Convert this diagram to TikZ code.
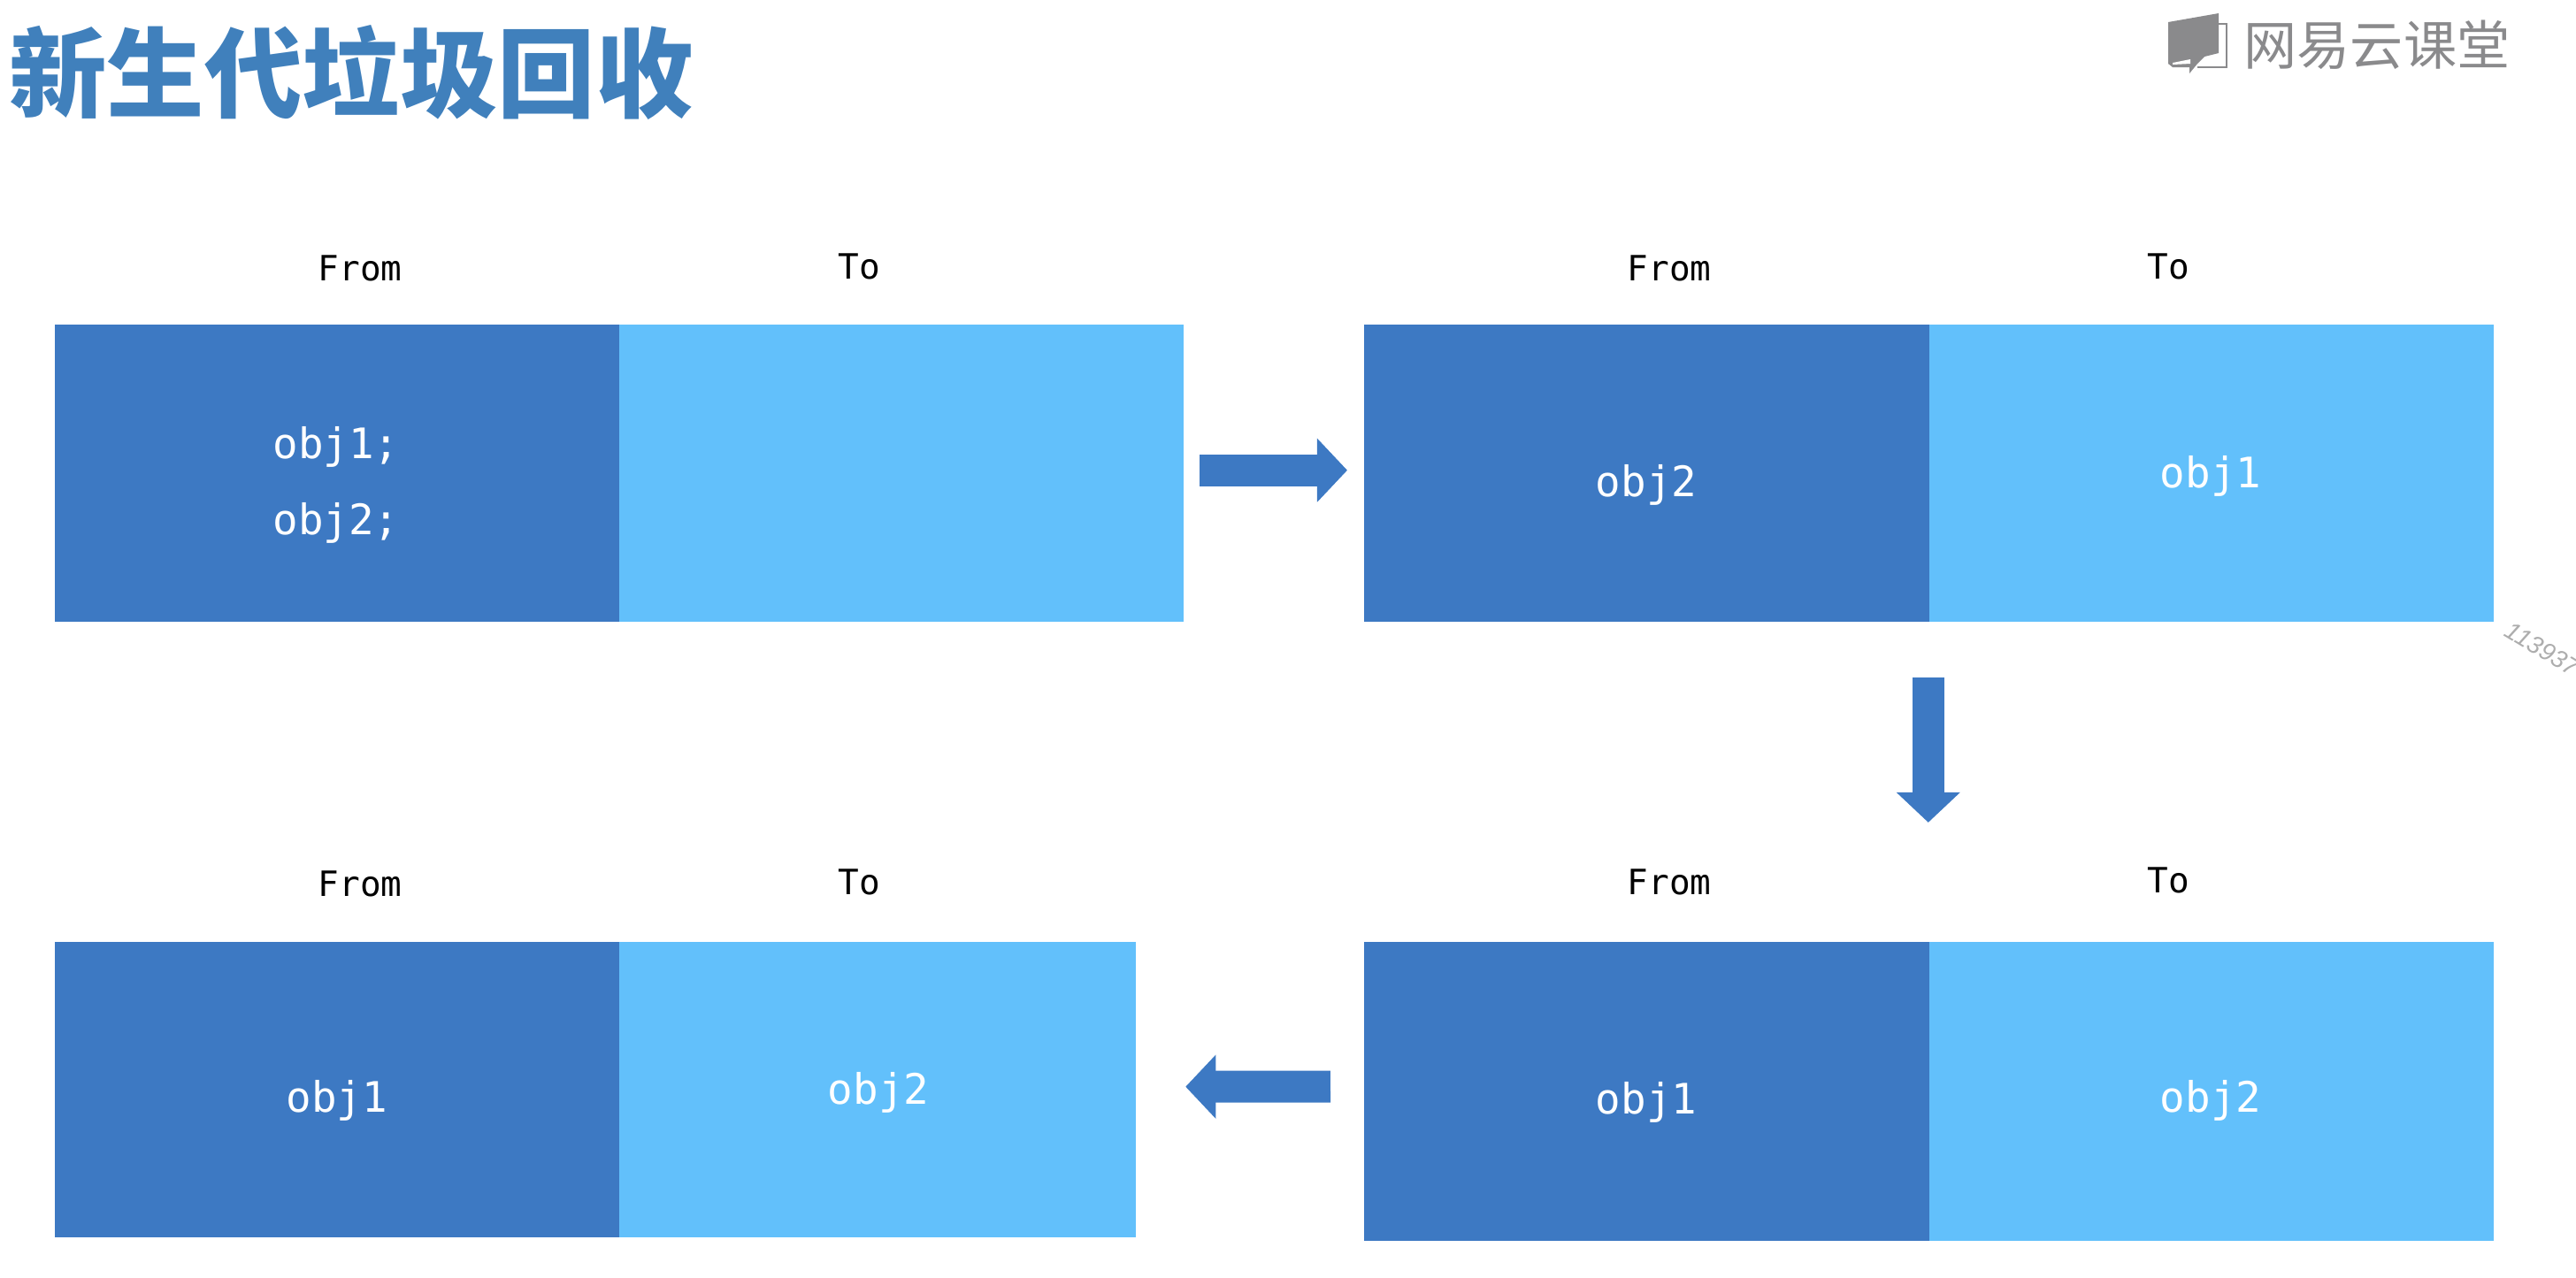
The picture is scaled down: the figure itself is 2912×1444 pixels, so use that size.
\documentclass[tikz,border=0pt]{standalone}
\usepackage{fontspec}
\setmonofont{DejaVu Sans Mono}
\setsansfont{Liberation Sans}
\newfontfamily\cjk{Noto Sans CJK SC}
\usetikzlibrary{arrows.meta, positioning}

\definecolor{fromblue}{HTML}{3D79C3}
\definecolor{toblue}{HTML}{62C0FB}
\definecolor{titleblue}{HTML}{4080BC}
\definecolor{logogray}{HTML}{8A8A8C}

\tikzset{
    frombox/.style={fill=fromblue, inner sep=0, minimum height=#1},
    tobox/.style={fill=toblue, inner sep=0, minimum height=#1},
    spacelabel/.style={font=\ttfamily\fontsize{11.2}{13}\selectfont, inner sep=0},
    objlabel/.style={font=\ttfamily\fontsize{13.5}{15}\selectfont, text=white, inner sep=0},
    flowarrow/.style={draw=fromblue, line width=0.36cm, -{Triangle[length=0.34cm, width=0.70cm]}},
}

\begin{document}
\begin{tikzpicture}[x=0.01cm, y=-0.01cm]
    \useasboundingbox (0, 0) rectangle (2912, 1444);

    \node[font=\cjk\bfseries\fontsize{31.4}{34}\selectfont, text=titleblue, inner sep=0] (title) at (397, 82) {新生代垃圾回收};

    % logo
    \fill[logogray] (2451, 25) -- (2508, 15) -- (2508, 60) -- (2492, 64) -- (2484, 72) -- (2475, 83)
        -- (2475, 76) -- (2456, 76) -- (2451, 72) -- cycle;
    \fill[white] (2456, 71) -- (2476, 67) -- (2476, 72) -- (2456, 73) -- cycle;
    \draw[logogray, line width=0.025cm] (2508, 27) -- (2517, 27) -- (2517, 76) -- (2484, 76);
    \node[font=\cjk\fontsize{17.1}{19}\selectfont, text=logogray, inner sep=0] (brand) at (2687, 51) {网易云课堂};

    % the four from/to pairs
    \foreach \n/\x/\y/\h/\w in {A/61/366/336/638, B/1541/366/336/638, C/1541/1064/338/638, D/61/1064/334/584}
    {
        \node[frombox=\h*0.01cm, minimum width=6.39cm, anchor=north west] (from\n) at (\x, \y) {};
        \node[tobox=\h*0.01cm, minimum width=\w*0.01cm, right=-0.02cm of from\n] (to\n) {};
    }

    \foreach \n/\x/\yf/\yt/\xt in {A/407/303/301/971, B/1887/303/301/2451, C/1887/997/995/2451, D/407/999/997/971}
    {
        \node[spacelabel] (labelfrom\n) at (\x, \yf) {From};
        \node[spacelabel] (labelto\n) at (\xt, \yt) {To};
    }

    \node[objlabel] (objaone) at (380, 505) {obj1;};
    \node[objlabel] (objatwo) at (380, 591) {obj2;};
    \node[objlabel] (objb) at (1861, 548) {obj2};
    \node[objlabel] (objbto) at (2499, 538) {obj1};
    \node[objlabel] (objc) at (1861, 1246) {obj1};
    \node[objlabel] (objcto) at (2499, 1244) {obj2};
    \node[objlabel] (objd) at (381, 1244) {obj1};
    \node[objlabel] (objdto) at (993, 1235) {obj2};

    \draw[flowarrow, shorten <=0.17cm, shorten >=0.18cm] ([yshift=0.03cm]toA.east) -- ([yshift=0.03cm]fromB.west);
    \draw[flowarrow, shorten <=0.63cm, shorten >=1.34cm] ([xshift=-0.02cm]fromB.south east) -- ([xshift=-0.02cm]fromC.north east);
    \draw[flowarrow, shorten <=0.37cm, shorten >=0.55cm] ([yshift=0.05cm]fromC.west) -- ([yshift=0.03cm]toD.east);

    \begin{scope}
        \clip (0, 0) rectangle (2912, 1444);
        \node[font=\sffamily\itshape\fontsize{8}{9}\selectfont, text=black!32, rotate=-31, anchor=west, inner sep=0] (stamp) at (2834, 710) {113937};
    \end{scope}
\end{tikzpicture}
\end{document}
